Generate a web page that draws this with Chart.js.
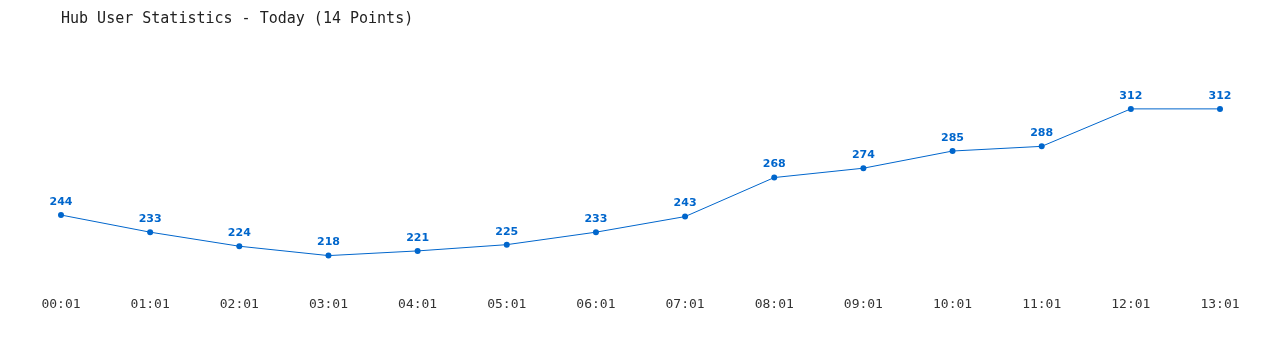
<!DOCTYPE html>
<html>
<head>
<meta charset="utf-8">
<script src="https://cdn.jsdelivr.net/npm/chart.js@4/dist/chart.umd.min.js"></script>
<style>
  html, body { margin: 0; padding: 0; background: #fff; }
  #wrap { width: 1280px; height: 350px; }
</style>
</head>
<body>
<div id="wrap"><canvas id="myChart"></canvas></div>
<script>
// hours on the x axis
const hours = ["00:01", "01:01", "02:01", "03:01", "04:01", "05:01", "06:01",
               "07:01", "08:01", "09:01", "10:01", "11:01", "12:01", "13:01"];
// users online at each hour
const users = [244, 233, 224, 218, 221, 225, 233, 243, 268, 274, 285, 288, 312, 312];

const chartTitle = "Hub User Statistics - Today (14 Points)";
const blue = "#0066cc";

// draws the number above each point
const valueLabels = {
  id: "valueLabels",
  afterDatasetsDraw(chart) {
    const ctx = chart.ctx;
    const meta = chart.getDatasetMeta(0);
    ctx.save();
    ctx.font = "bold 11px 'DejaVu Sans', Verdana, sans-serif";
    ctx.fillStyle = blue;
    ctx.textAlign = "center";
    ctx.textBaseline = "middle";
    meta.data.forEach((pt, i) => {
      ctx.fillText(String(users[i]), pt.x, pt.y - 13);
    });
    ctx.restore();
  }
};

const ctx = document.getElementById("myChart").getContext("2d");
const myChart = new Chart(ctx, {
  type: "line",
  data: {
    labels: hours,
    datasets: [{
      label: "Users",
      data: users,
      borderColor: blue,
      backgroundColor: blue,
      borderWidth: 1,
      pointRadius: 3,
      pointBackgroundColor: blue,
      pointBorderWidth: 0,
      tension: 0
    }]
  },
  options: {
    responsive: true,
    maintainAspectRatio: false,
    animation: false,
    layout: {
      padding: { left: 61, right: 60, top: 0, bottom: 32 }
    },
    scales: {
      x: {
        offset: false,
        grid: { display: false, drawTicks: false },
        border: { display: false },
        ticks: {
          padding: 6,
          maxRotation: 0,
          autoSkip: false,
          color: "#333",
          font: { family: "'DejaVu Sans Mono', monospace", size: 13 }
        }
      },
      y: {
        display: false,
        min: 195.7,
        max: 355.5
      }
    },
    plugins: {
      legend: { display: false },
      tooltip: { enabled: false },
      title: {
        display: true,
        text: chartTitle,
        align: "start",
        color: "#222",
        padding: { top: 10, bottom: 13 },
        font: { family: "'DejaVu Sans Mono', monospace", size: 15, weight: "normal" }
      }
    }
  },
  plugins: [valueLabels]
});
</script>
</body>
</html>
